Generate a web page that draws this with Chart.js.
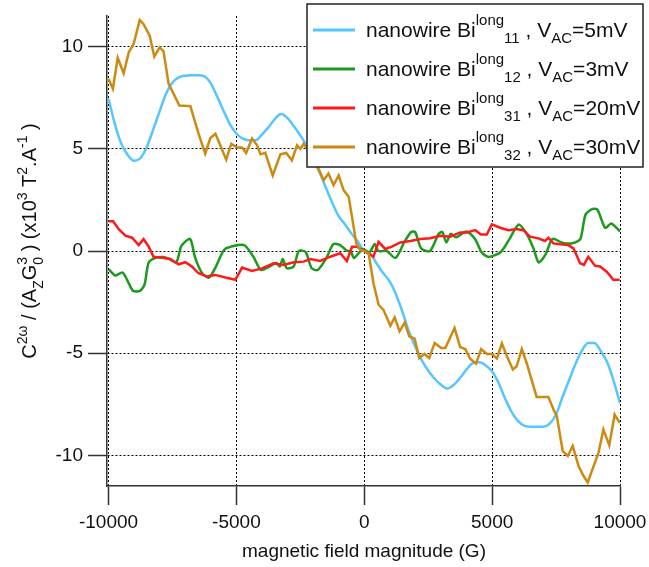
<!DOCTYPE html>
<html>
<head>
<meta charset="utf-8">
<script src="https://cdn.jsdelivr.net/npm/chart.js@4"></script>
<style>
  html, body { margin: 0; padding: 0; background: #fff; }
</style>
</head>
<body>
<canvas id="chart" width="649" height="567"></canvas>
<script>
// axis ticks
const xTicks = [-10000, -5000, 0, 5000, 10000];
const yTicks = [-10, -5, 0, 5, 10];

// Bi long 11, 5 mV (smooth)
const blueField = [-10000, -9750, -9500, -9250, -9000, -8750, -8500, -8250, -8000, -7750, -7500, -7250, -7000, -6750, -6500, -6250, -6000, -5750, -5500, -5250, -5000, -4750, -4500, -4250, -4000, -3750, -3500, -3250, -3000, -2750, -2500, -2250, -2000, -1750, -1500, -1250, -1000, -750, -500, -250, 0, 250, 500, 750, 1000, 1250, 1500, 1750, 2000, 2250, 2500, 2750, 3000, 3250, 3500, 3750, 4000, 4250, 4500, 4750, 5000, 5250, 5500, 5750, 6000, 6250, 6500, 6750, 7000, 7250, 7500, 7750, 8000, 8250, 8500, 8750, 9000, 9250, 9500, 9750, 10000];
const blueValues = [7.45, 6.2, 5.25, 4.7, 4.42, 4.55, 5.1, 5.95, 6.85, 7.7, 8.25, 8.5, 8.58, 8.6, 8.6, 8.55, 8.2, 7.55, 6.85, 6.2, 5.75, 5.5, 5.42, 5.42, 5.7, 6.05, 6.45, 6.7, 6.5, 6.1, 5.65, 5.15, 4.5, 3.85, 3.1, 2.35, 1.7, 1.3, 0.85, 0.45, 0, -0.15, -0.65, -1.1, -1.5, -2.15, -3.0, -3.95, -4.7, -5.35, -5.85, -6.25, -6.55, -6.73, -6.55, -6.2, -5.8, -5.48, -5.45, -5.6, -5.9, -6.45, -7.2, -7.85, -8.3, -8.55, -8.6, -8.6, -8.6, -8.45, -8.0, -7.15, -6.35, -5.55, -4.9, -4.5, -4.5, -4.9, -5.45, -6.35, -7.45];

// Bi long 12, 3 mV
const greenField = [-9990, -9730, -9450, -9200, -9040, -8770, -8590, -8430, -8160, -7890, -7620, -7350, -7150, -6810, -6610, -6340, -6070, -5800, -5460, -4920, -4650, -4310, -4040, -3710, -3440, -3300, -3190, -3030, -2760, -2560, -2290, -2060, -1820, -1480, -1210, -940, -670, -540, -400, -200, -40, 210, 410, 550, 880, 1220, 1560, 1830, 1990, 2230, 2570, 2910, 3050, 3210, 3380, 3590, 3990, 4330, 4600, 4870, 5340, 5680, 6040, 6350, 6620, 6820, 7090, 7360, 7770, 8180, 8450, 8650, 8910, 9120, 9420, 9660, 10000];
const greenValues = [-0.9, -1.2, -1.05, -1.6, -1.95, -1.95, -1.63, -0.56, -0.34, -0.29, -0.39, -0.56, 0.25, 0.59, -0.34, -1.09, -1.3, -0.76, 0.08, 0.29, 0.25, -0.34, -0.93, -0.76, -0.59, -0.76, -0.39, -0.84, -0.76, 0, -0.05, -0.84, -0.93, -0.34, 0.34, 0.29, 0, 0, -0.34, -0.08, 0.08, -0.05, 0.34, 0, 0, -0.34, 0.42, 0.93, 0.93, 0.12, 0, 0.84, 0.93, 0.42, 0.84, 0.67, 0.96, 0.59, -0.08, -0.29, -0.05, 0.59, 1.3, 0.84, 0.12, -0.56, -0.17, 0.59, 0.39, 0.39, 0.59, 1.77, 2.05, 2.02, 1.13, 1.35, 0.96];

// Bi long 31, 20 mV
const redField = [-10000, -9820, -9600, -9340, -9080, -8820, -8630, -8430, -8240, -7910, -7590, -7260, -7000, -6740, -6480, -6150, -5830, -5430, -5040, -4780, -4390, -4000, -3540, -3150, -2760, -2370, -2110, -1720, -1330, -940, -680, -480, -290, 0, 360, 560, 820, 1080, 1410, 1800, 2190, 2580, 2970, 3360, 3750, 4010, 4340, 4560, 4790, 4990, 5310, 5640, 5940, 6220, 6480, 6810, 7070, 7200, 7400, 7660, 7980, 8180, 8440, 8590, 8760, 9020, 9220, 9480, 9740, 9990];
const redValues = [1.45, 1.46, 1.07, 0.75, 0.65, 0.29, 0.58, 0.21, -0.28, -0.33, -0.39, -0.65, -0.55, -0.76, -1.09, -1.25, -1.17, -1.3, -1.41, -0.81, -0.98, -0.85, -0.6, -0.68, -0.55, -0.52, -0.39, -0.49, -0.28, -0.11, -0.49, 0.21, 0.21, 0, -0.28, 0.45, 0.1, 0.21, 0.42, 0.49, 0.59, 0.62, 0.75, 0.7, 0.91, 0.91, 1.02, 0.81, 0.81, 1.3, 1.14, 1.02, 1.07, 1.02, 0.7, 0.62, 0.49, 0.65, 0.37, 0.33, 0.29, 0.13, -0.6, -0.68, -0.28, -0.72, -0.76, -1.01, -1.41, -1.41];

// Bi long 32, 30 mV
const goldField = [-10000, -9830, -9640, -9410, -9210, -9020, -8780, -8630, -8390, -8210, -8000, -7850, -7650, -7230, -6800, -6480, -6220, -6020, -5820, -5630, -5400, -5200, -4980, -4780, -4620, -4390, -4190, -4060, -3870, -3580, -3280, -3050, -2830, -2630, -2500, -2370, -2100, -1790, -1590, -1400, -1200, -1000, -810, -610, -480, -310, -160, 0, 170, 360, 560, 750, 1020, 1190, 1380, 1580, 1760, 1970, 2150, 2360, 2540, 2750, 3010, 3170, 3530, 3750, 3950, 4140, 4370, 4570, 4800, 4990, 5190, 5380, 5580, 5810, 5960, 6160, 6350, 6740, 7200, 7400, 7530, 7760, 7960, 8150, 8380, 8570, 8740, 8900, 9160, 9350, 9580, 9790, 9990];
const goldValues = [8.42, 7.94, 9.45, 8.7, 9.72, 10.13, 11.3, 11.1, 10.54, 9.51, 9.97, 9.77, 8.18, 7.12, 7.09, 5.74, 4.76, 5.53, 5.74, 5.17, 4.47, 5.25, 5.06, 5.06, 4.8, 5.5, 5.17, 4.73, 4.8, 3.7, 4.73, 4.8, 4.44, 5.17, 5.0, 5.25, 4.7, 4.03, 3.46, 3.79, 3.22, 3.7, 2.98, 2.65, 1.67, 0.37, 0.05, 0, -0.11, -1.58, -2.63, -2.88, -3.66, -3.25, -3.93, -3.5, -4.18, -4.29, -5.24, -5.04, -5.24, -4.5, -4.75, -4.75, -3.77, -4.7, -4.8, -5.27, -5.51, -4.8, -5.04, -5.04, -5.26, -4.52, -5.15, -5.8, -5.64, -4.8, -5.48, -7.14, -7.14, -7.76, -8.08, -9.79, -10.03, -9.54, -10.52, -11.0, -11.33, -10.76, -9.87, -8.73, -9.51, -8.0, -8.41];

const FONT = "'Liberation Sans', Arial, sans-serif";

function toPoints(field, values) {
  return field.map((x, i) => ({ x: x, y: values[i] }));
}

const series = [
  { field: blueField, values: blueValues, color: "#55c6ff", num: "11", volt: "=5mV" },
  { field: greenField, values: greenValues, color: "#1c9a1c", num: "12", volt: "=3mV" },
  { field: redField, values: redValues, color: "#ff1a1a", num: "31", volt: "=20mV" },
  { field: goldField, values: goldValues, color: "#cc8a12", num: "32", volt: "=30mV" },
];

// draws text made of normal / sup / sub pieces, returns end x
function richText(ctx, parts, x, y, size, small, supUp, subDown) {
  parts.forEach((p) => {
    const [txt, mode, txt2] = p;
    if (mode === "n") {
      ctx.font = size + "px " + FONT;
      ctx.fillText(txt, x, y);
      x += ctx.measureText(txt).width;
    } else if (mode === "sup") {
      ctx.font = small + "px " + FONT;
      ctx.fillText(txt, x, y - supUp);
      x += ctx.measureText(txt).width;
    } else if (mode === "sub") {
      ctx.font = small + "px " + FONT;
      ctx.fillText(txt, x, y + subDown);
      x += ctx.measureText(txt).width;
    } else if (mode === "subsup") {
      ctx.font = small + "px " + FONT;
      ctx.fillText(txt, x, y + subDown);
      ctx.fillText(txt2, x, y - supUp);
      x += Math.max(ctx.measureText(txt).width, ctx.measureText(txt2).width);
    }
  });
  return x;
}

function richWidth(ctx, parts, size, small) {
  let w = 0;
  parts.forEach((p) => {
    ctx.font = (p[1] === "n" ? size : small) + "px " + FONT;
    let pw = ctx.measureText(p[0]).width;
    if (p[1] === "subsup") pw = Math.max(pw, ctx.measureText(p[2]).width);
    w += pw;
  });
  return w;
}

const labelsPlugin = {
  id: "labels",
  afterDraw(chart) {
    const ctx = chart.ctx;
    ctx.save();
    ctx.fillStyle = "#111";
    ctx.textBaseline = "alphabetic";

    // x title
    ctx.font = "19px " + FONT;
    ctx.textAlign = "center";
    ctx.fillText("magnetic field magnitude (G)", 364, 557);
    ctx.textAlign = "left";

    // y title, rotated
    const yParts = [
      ["C", "n"], ["2\u03c9", "sup"], [" / (A", "n"], ["Z", "sub"], ["G", "n"],
      ["0", "subsup", "3"], [" ) (x10", "n"], ["3", "sup"], [" T", "n"], ["2", "sup"],
      [".A", "n"], ["-1", "sup"], [" )", "n"],
    ];
    const w = richWidth(ctx, yParts, 20, 14);
    ctx.translate(36, 241 + w / 2);
    ctx.rotate(-Math.PI / 2);
    richText(ctx, yParts, 0, 0, 20, 14, 9, 7);
    ctx.setTransform(1, 0, 0, 1, 0, 0);

    // legend box
    const bx = 307, by = 4, bw = 336, bh = 163;
    ctx.fillStyle = "#fff";
    ctx.fillRect(bx, by, bw, bh);
    ctx.strokeStyle = "#222";
    ctx.lineWidth = 1.5;
    ctx.strokeRect(bx, by, bw, bh);
    series.forEach((s, i) => {
      const ly = 30 + i * 39;
      ctx.strokeStyle = s.color;
      ctx.lineWidth = 3;
      ctx.beginPath();
      ctx.moveTo(313, ly);
      ctx.lineTo(355, ly);
      ctx.stroke();
      ctx.fillStyle = "#111";
      richText(ctx, [
        ["nanowire Bi", "n"], ["long", "sup"], [s.num, "sub"], [" , V", "n"], ["AC", "sub"], [s.volt, "n"],
      ], 366, ly + 7, 21, 15, 12, 6);
    });
    ctx.restore();
  },
};

const ctx = document.getElementById("chart").getContext("2d");
new Chart(ctx, {
  type: "scatter",
  data: {
    datasets: series.map((s, i) => ({
      data: toPoints(s.field, s.values),
      showLine: true,
      borderColor: s.color,
      backgroundColor: s.color,
      borderWidth: 2.5,
      pointRadius: 0,
      tension: i === 1 ? 0.25 : 0,
      cubicInterpolationMode: i === 0 ? "monotone" : "default",
      order: 3 - i,
    })),
  },
  options: {
    responsive: false,
    animation: false,
    layout: { padding: { top: 16, right: 29, left: 0, bottom: 0 } },
    plugins: { legend: { display: false }, tooltip: { enabled: false } },
    scales: {
      x: {
        type: "linear",
        min: -10060,
        max: 10000,
        afterFit(scale) {
          scale.height = 81;
          scale.paddingLeft = 0;
          scale.paddingRight = 0;
        },
        afterBuildTicks(scale) { scale.ticks = xTicks.map((v) => ({ value: v })); },
        grid: { color: "#000", lineWidth: 1, tickLength: 19, tickColor: "#333", tickWidth: 1.5 },
        border: { display: true, color: "#333", width: 1.5, dash: [2, 2] },
        ticks: {
          font: { family: FONT, size: 19 }, color: "#111", padding: 6, maxRotation: 0,
          callback: (v) => String(v),
        },
      },
      y: {
        type: "linear",
        min: -11.5,
        max: 11.5,
        afterFit(scale) {
          scale.width = 107;
          scale.paddingTop = 0;
          scale.paddingBottom = 0;
        },
        afterBuildTicks(scale) { scale.ticks = yTicks.map((v) => ({ value: v })); },
        grid: { color: "#000", lineWidth: 1, tickLength: 19, tickColor: "#333", tickWidth: 1.5 },
        border: { display: true, color: "#333", width: 1.5, dash: [2, 2] },
        ticks: { font: { family: FONT, size: 19 }, color: "#111", padding: 5, callback: (v) => String(v) },
      },
    },
  },
  plugins: [labelsPlugin],
});
</script>
</body>
</html>
